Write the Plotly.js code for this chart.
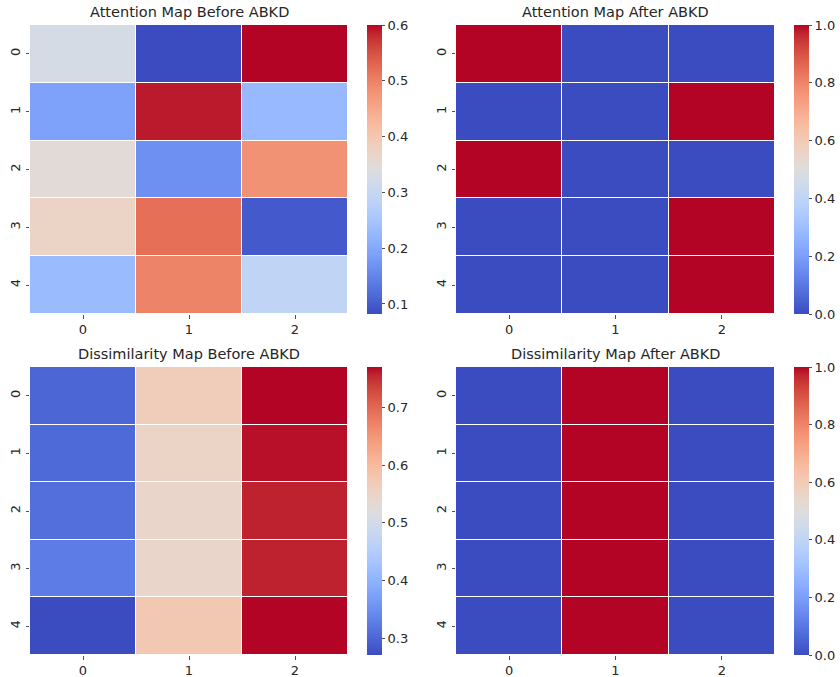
<!DOCTYPE html>
<html><head><meta charset="utf-8">
<script src="https://cdn.plot.ly/plotly-3.0.1.min.js"></script>
<style>body{margin:0;padding:0;background:#fff}#chart{width:840px;height:677px}</style>
</head><body><div id="chart"></div>
<script>
// ---- data ----
const colLabels = ["0", "1", "2"];
const rowLabels = ["0", "1", "2", "3", "4"];
const titles = ["Attention Map Before ABKD", "Attention Map After ABKD",
                "Dissimilarity Map Before ABKD", "Dissimilarity Map After ABKD"];
const attnBefore = [
  [0.325, 0.082, 0.600],
  [0.190, 0.590, 0.227],
  [0.350, 0.165, 0.480],
  [0.372, 0.520, 0.098],
  [0.232, 0.497, 0.290]
];
const attnAfter = [
  [1, 0, 0],
  [0, 0, 1],
  [1, 0, 0],
  [0, 0, 1],
  [0, 0, 1]
];
const dissBefore = [
  [0.300, 0.565, 0.770],
  [0.303, 0.550, 0.765],
  [0.310, 0.545, 0.757],
  [0.326, 0.545, 0.757],
  [0.271, 0.575, 0.770]
];
const dissAfter = [
  [0, 1, 0],
  [0, 1, 0],
  [0, 1, 0],
  [0, 1, 0],
  [0, 1, 0]
];
const cbTicks = [
  [0.1, 0.2, 0.3, 0.4, 0.5, 0.6],
  [0.0, 0.2, 0.4, 0.6, 0.8, 1.0],
  [0.3, 0.4, 0.5, 0.6, 0.7],
  [0.0, 0.2, 0.4, 0.6, 0.8, 1.0]
];

// ---- style ----
const cw = [[59,76,192],[68,90,204],[77,104,215],[87,117,225],[98,130,234],[108,142,241],[119,154,247],[130,165,251],[141,176,254],[152,185,255],[163,194,255],[174,201,253],[184,208,249],[194,213,244],[204,217,238],[213,219,229],[221,221,221],[229,216,209],[236,211,197],[241,204,184],[245,196,172],[247,187,160],[247,177,148],[246,165,135],[244,154,123],[241,141,111],[236,127,99],[229,112,88],[222,96,77],[213,80,66],[203,62,56],[192,40,47],[180,4,38]];
const coolwarm = cw.map((c, i) => [i / (cw.length - 1), `rgb(${c[0]},${c[1]},${c[2]})`]);

const W = 840, H = 677;
const panels = [
  {x0: 30, x1: 348, y0: 25, y1: 314, cbx: 367},
  {x0: 456, x1: 775, y0: 25, y1: 314, cbx: 794},
  {x0: 30, x1: 348, y0: 367, y1: 655, cbx: 367},
  {x0: 456, x1: 775, y0: 367, y1: 655, cbx: 794}
];
const datasets = [attnBefore, attnAfter, dissBefore, dissAfter];
const font = {family: "DejaVu Sans, sans-serif", size: 13, color: "#262626"};

const traces = [];
const layout = {
  width: W, height: H,
  margin: {l: 0, r: 0, t: 0, b: 0, autoexpand: false},
  paper_bgcolor: "#fff", plot_bgcolor: "#fff",
  font: font, showlegend: false, annotations: []
};

datasets.forEach((z, i) => {
  const p = panels[i];
  const flat = z.flat();
  const zmin = Math.min(...flat), zmax = Math.max(...flat);
  const ax = i === 0 ? "" : String(i + 1);
  traces.push({
    type: "heatmap", z: z, x: colLabels, y: rowLabels,
    xaxis: "x" + ax, yaxis: "y" + ax,
    colorscale: coolwarm, zmin: zmin, zmax: zmax,
    xgap: 1, ygap: 1, hoverinfo: "z",
    colorbar: {
      x: p.cbx / W, xanchor: "left", xref: "paper",
      y: 1 - (p.y0 + p.y1) / 2 / H, yanchor: "middle", yref: "paper",
      len: (p.y1 - p.y0) / H, lenmode: "fraction",
      thickness: 15, thicknessmode: "pixels",
      outlinewidth: 0, xpad: 0, ypad: 0,
      tickmode: "array", tickvals: cbTicks[i], ticktext: cbTicks[i].map(v => v.toFixed(1)),
      ticks: "outside", ticklen: 3.5, tickwidth: 0.8, tickcolor: "#262626",
      tickfont: font
    }
  });
  const dom = {
    x: [p.x0 / W, p.x1 / W],
    y: [1 - p.y1 / H, 1 - p.y0 / H]
  };
  layout["xaxis" + ax] = {
    domain: dom.x, anchor: "y" + ax, type: "category",
    range: [-0.5, 2.5], showgrid: false, zeroline: false, showline: false,
    ticks: "outside", ticklen: 3.5, tickwidth: 0.8, tickcolor: "#262626",
    tickfont: font, automargin: false, fixedrange: true
  };
  layout["yaxis" + ax] = {
    domain: dom.y, anchor: "x" + ax, type: "category",
    range: [4.5, -0.5], showgrid: false, zeroline: false, showline: false,
    ticks: "outside", ticklen: 3.5, tickwidth: 0.8, tickcolor: "#262626",
    tickfont: font, tickangle: -90, automargin: false, fixedrange: true
  };
  layout.annotations.push({
    text: titles[i], xref: "paper", yref: "paper",
    x: (p.x0 + p.x1) / 2 / W, y: 1 - (p.y0 - 3) / H,
    xanchor: "center", yanchor: "bottom", showarrow: false,
    font: {family: "DejaVu Sans, sans-serif", size: 14.5, color: "#262626"}
  });
});

Plotly.newPlot("chart", traces, layout, {displayModeBar: false, staticPlot: true});
</script></body></html>
